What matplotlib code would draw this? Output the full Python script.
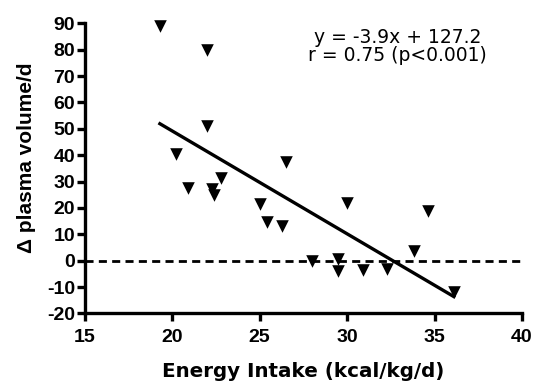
import numpy as np
import matplotlib
matplotlib.use("Agg")
import matplotlib.pyplot as plt

plt.rcParams["font.family"] = ["Liberation Sans", "DejaVu Sans"]
plt.rcParams["axes.unicode_minus"] = False

# energy intake (kcal/kg/d) vs change in plasma volume per day
energy = [19.3, 22.0, 22.0, 20.2, 26.5, 22.8, 20.9, 22.3, 22.4, 25.0, 30.0,
          34.6, 25.4, 26.3, 33.8, 28.0, 29.5, 29.5, 30.9, 32.3, 36.1]
delta_pv = [89, 80, 51, 40.5, 37.5, 31.5, 27.5, 27, 25, 21.5, 22,
            19, 14.5, 13, 3.5, 0, 0.5, -4, -3.5, -3, -12]

slope, intercept = -3.9, 127.2
x_ticks = [15, 20, 25, 30, 35, 40]
y_ticks = list(range(-20, 91, 10))

fig = plt.figure(figsize=(5.35, 3.81), dpi=100)
ax = fig.add_axes([0.1583, 0.1772, 0.8174, 0.7617])

ax.scatter(energy, delta_pv, marker="v", s=82, color="black", lw=0, zorder=3, clip_on=False)

xfit = np.array([min(energy), max(energy)])
ax.plot(xfit, slope * xfit + intercept, color="black", lw=2.4)
ax.axhline(0, color="black", lw=2, ls=(0, (2.9, 1.9)))

ax.set_xlim(15, 40)
ax.set_ylim(-20, 90)
ax.set_xticks(x_ticks)
ax.set_yticks(y_ticks)
for s in ["top", "right"]:
    ax.spines[s].set_visible(False)
for s in ["left", "bottom"]:
    ax.spines[s].set_linewidth(2.4)
ax.tick_params(width=2.4, length=5.5, labelsize=14)
ax.tick_params(axis="x", pad=6)
ax.tick_params(axis="y", pad=1.5)
for lab in ax.get_xticklabels() + ax.get_yticklabels():
    lab.set_fontweight("bold")

ax.set_xlabel("Energy Intake (kcal/kg/d)", fontsize=14.3, fontweight="bold",
              family="DejaVu Sans", va="baseline")
ax.xaxis.set_label_coords(0.5, -0.218)
ax.set_ylabel("Δ plasma volume/d", fontsize=15, fontweight="bold", va="center")
ax.yaxis.set_label_coords(-0.134, 0.5376)

ax.text(32.9, 82.4, "y = -3.9x + 127.2", ha="center", va="baseline",
        fontsize=13.5, family="DejaVu Sans")
ax.text(32.9, 75.6, "r = 0.75 (p<0.001)", ha="center", va="baseline",
        fontsize=13.5, family="DejaVu Sans")

fig.savefig("out.png", dpi=100)
